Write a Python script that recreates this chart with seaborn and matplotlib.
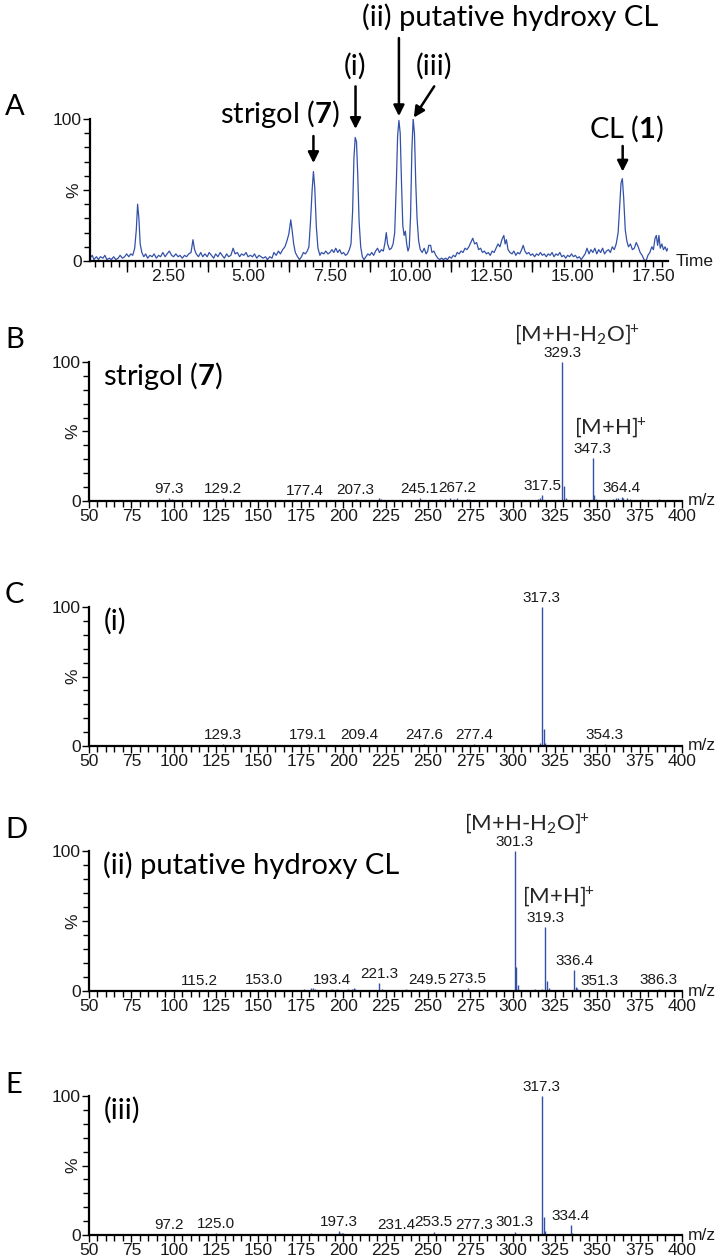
import matplotlib
matplotlib.use('Agg')
import matplotlib.pyplot as plt
from matplotlib import font_manager as fm
from matplotlib.ticker import MultipleLocator
import pandas as pd
import seaborn as sns

# ---- data ----
# A: total ion chromatogram (time in min, relative intensity %)
chrom_points = [
    (0.10, 2), (0.17, 4), (0.22, 1), (0.30, 3), (0.36, 1), (0.42, 3), (0.50, 2), (0.56, 4),
    (0.62, 1), (0.70, 2), (0.76, 1), (0.83, 3), (0.90, 1), (0.97, 2), (1.03, 4), (1.10, 2),
    (1.17, 3), (1.23, 5), (1.30, 3), (1.36, 5), (1.42, 4), (1.48, 9), (1.53, 22), (1.57, 40),
    (1.61, 30), (1.65, 12), (1.70, 6), (1.76, 3), (1.82, 5), (1.88, 2), (1.95, 4), (2.02, 3),
    (2.08, 5), (2.15, 2), (2.22, 4), (2.28, 3), (2.35, 6), (2.42, 3), (2.48, 5), (2.55, 7),
    (2.62, 4), (2.68, 3), (2.75, 5), (2.82, 3), (2.88, 4), (2.95, 2), (3.02, 4), (3.08, 3),
    (3.15, 5), (3.22, 6), (3.28, 15), (3.33, 8), (3.38, 5), (3.45, 3), (3.52, 6), (3.58, 3),
    (3.65, 5), (3.72, 3), (3.78, 6), (3.85, 4), (3.92, 2), (3.98, 5), (4.05, 3), (4.12, 6),
    (4.18, 4), (4.25, 2), (4.32, 5), (4.38, 3), (4.45, 4), (4.52, 9), (4.58, 5), (4.65, 6),
    (4.72, 3), (4.78, 5), (4.85, 4), (4.92, 6), (4.98, 3), (5.05, 4), (5.12, 3), (5.18, 5),
    (5.25, 2), (5.32, 4), (5.38, 3), (5.45, 2), (5.52, 3), (5.58, 1), (5.65, 3), (5.72, 2),
    (5.78, 6), (5.85, 4), (5.92, 7), (5.98, 5), (6.05, 8), (6.12, 10), (6.18, 14), (6.24, 19),
    (6.30, 29), (6.34, 22), (6.39, 12), (6.44, 6), (6.51, 3), (6.57, 1), (6.63, 3), (6.69, 6),
    (6.75, 5), (6.81, 7), (6.86, 10), (6.91, 28), (6.96, 50), (7.00, 63), (7.04, 52), (7.09, 24),
    (7.14, 9), (7.20, 4), (7.25, 6), (7.32, 5), (7.38, 7), (7.45, 5), (7.51, 6), (7.57, 8),
    (7.63, 6), (7.69, 9), (7.75, 6), (7.81, 8), (7.87, 5), (7.93, 6), (7.99, 4), (8.05, 5),
    (8.11, 8), (8.16, 12), (8.21, 35), (8.25, 72), (8.29, 87), (8.33, 84), (8.37, 60), (8.41, 28),
    (8.46, 10), (8.51, 3), (8.56, 1), (8.62, 3), (8.68, 5), (8.74, 4), (8.80, 6), (8.86, 4),
    (8.92, 7), (8.98, 9), (9.04, 6), (9.10, 8), (9.16, 7), (9.21, 13), (9.25, 20), (9.29, 12),
    (9.35, 8), (9.41, 9), (9.46, 12), (9.51, 20), (9.56, 55), (9.60, 88), (9.64, 99), (9.68, 90),
    (9.72, 55), (9.76, 25), (9.80, 18), (9.84, 21), (9.88, 12), (9.92, 7), (9.96, 10), (10.00, 32),
    (10.04, 78), (10.08, 100), (10.12, 90), (10.16, 55), (10.20, 30), (10.25, 14), (10.30, 8), (10.36, 6),
    (10.42, 9), (10.48, 5), (10.53, 7), (10.56, 11), (10.62, 11), (10.66, 6), (10.72, 7), (10.78, 4),
    (10.84, 2), (10.90, 1), (10.96, 2), (11.02, 1), (11.08, 2), (11.14, 1), (11.20, 3), (11.26, 2),
    (11.32, 4), (11.38, 3), (11.44, 6), (11.50, 5), (11.56, 7), (11.62, 6), (11.68, 9), (11.74, 8),
    (11.80, 10), (11.86, 13), (11.92, 16), (11.98, 12), (12.04, 13), (12.10, 8), (12.16, 9), (12.22, 6),
    (12.28, 7), (12.34, 5), (12.40, 6), (12.46, 4), (12.52, 7), (12.58, 6), (12.64, 9), (12.70, 12),
    (12.76, 10), (12.82, 15), (12.88, 18), (12.92, 12), (12.96, 15), (13.01, 8), (13.07, 6), (13.13, 5),
    (13.19, 7), (13.25, 4), (13.31, 6), (13.37, 5), (13.43, 8), (13.48, 11), (13.53, 7), (13.59, 5),
    (13.65, 6), (13.71, 4), (13.77, 5), (13.83, 3), (13.89, 5), (13.95, 4), (14.01, 6), (14.07, 4),
    (14.13, 5), (14.19, 3), (14.25, 5), (14.31, 4), (14.37, 6), (14.43, 3), (14.49, 5), (14.55, 4),
    (14.61, 6), (14.67, 3), (14.73, 4), (14.79, 2), (14.85, 4), (14.91, 3), (14.97, 5), (15.03, 3),
    (15.09, 4), (15.15, 2), (15.21, 3), (15.27, 1), (15.33, 3), (15.39, 5), (15.45, 9), (15.51, 5),
    (15.57, 8), (15.63, 6), (15.69, 9), (15.75, 5), (15.81, 8), (15.87, 6), (15.93, 9), (15.99, 5),
    (16.05, 7), (16.11, 8), (16.17, 6), (16.23, 10), (16.29, 8), (16.35, 12), (16.41, 20), (16.46, 40),
    (16.50, 55), (16.54, 58), (16.58, 45), (16.63, 22), (16.68, 14), (16.73, 10), (16.79, 12), (16.85, 8),
    (16.91, 9), (16.97, 13), (17.03, 10), (17.09, 6), (17.15, 4), (17.21, 1), (17.27, 0), (17.33, 4),
    (17.39, 6), (17.45, 10), (17.50, 8), (17.55, 16), (17.59, 18), (17.63, 11), (17.67, 18), (17.71, 9),
    (17.76, 12), (17.81, 8), (17.86, 10), (17.91, 7), (17.95, 9),
]

# arrows and names in A
arrow_names = ['strigol ($\\mathbf{7}$)', '(i)', '(ii) putative hydroxy CL', '(iii)', 'CL ($\\mathbf{1}$)']
arrow_tip_t = [7.00, 8.30, 9.64, 10.10, 16.55]
arrow_tip_y = [69, 93, 102, 101, 63]
arrow_tail_t = [7.00, 8.30, 9.64, 10.73, 16.55]
arrow_tail_y = [88, 123, 157, 123, 81]
name_t = [5.96, 8.30, 13.07, 10.73, 16.68]
name_y = [103.5, 137, 172, 137, 93]

# B: strigol (7)
b_mz = [97.3, 99.1, 115.1, 129.2, 141.1, 177.4, 199.2, 207.3, 212.1, 221.1,
        222.2, 233.2, 245.1, 257.2, 260.1, 263.2, 265.2, 267.2, 273.2, 274.2,
        282.2, 285.2, 295.1, 304.2, 309.2, 315.2, 316.3, 317.5, 329.3, 330.3,
        331.3, 333.2, 340.2, 346.3, 347.3, 348.3, 349.3, 355.2, 359.2, 361.3,
        362.3, 364.4, 365.3, 367.3, 369.3, 376.3, 380.3, 382.3, 386.3]
b_int = [2, 1.5, 1, 2, 1, 1, 1, 1.5, 0.8, 2,
         1.5, 1, 2, 1.5, 1.5, 2, 1.5, 2.5, 1.5, 1.5,
         1, 1, 0.8, 1, 1, 1.5, 2, 4.5, 100, 11,
         2, 1, 1, 1, 31, 4, 1.5, 1, 1.5, 2,
         2, 3, 2.5, 2, 1.5, 1.5, 1, 1, 1.5]
b_labels = ['97.3', '129.2', '177.4', '207.3', '245.1', '267.2', '317.5', '329.3', '347.3', '364.4']

# C: (i)
c_mz = [115.1, 129.3, 153.1, 155.1, 167.1, 169.1, 179.1, 181.1, 187.1, 191.1,
        201.1, 209.4, 217.2, 219.2, 237.2, 239.2, 247.6, 249.2, 261.2, 263.2,
        265.2, 271.2, 277.4, 309.2, 311.2, 316.3, 317.3, 318.3, 319.3, 329.3,
        331.3, 335.3, 345.3, 354.3]
c_int = [0.8, 1.5, 0.8, 0.8, 0.8, 1, 1.5, 1, 0.8, 0.8,
         0.8, 1.5, 1, 1, 1, 1, 1.5, 0.8, 1, 1,
         0.8, 1, 1.5, 1, 1, 2, 100, 12, 2, 0.8,
         1, 1, 0.8, 1.5]
c_labels = ['129.3', '179.1', '209.4', '247.6', '277.4', '317.3', '354.3']

# D: (ii) putative hydroxy CL
d_mz = [101.1, 115.2, 129.1, 153.0, 177.1, 181.1, 182.1, 183.1, 185.1, 193.4,
        196.1, 199.2, 203.1, 205.2, 206.2, 207.2, 217.2, 221.3, 223.2, 227.2,
        235.2, 237.2, 249.5, 259.2, 263.2, 273.5, 281.2, 283.2, 301.3, 302.3,
        303.3, 313.2, 317.3, 319.3, 320.3, 321.3, 336.4, 337.3, 338.3, 339.3,
        351.3, 353.3, 386.3]
d_int = [1, 1, 1, 1.5, 1.5, 2, 2, 1.5, 1, 1.5,
         1.5, 1, 1.5, 1.5, 2, 1.5, 1, 5.5, 1.5, 1,
         1, 1.5, 1.5, 1, 1, 2, 1, 1.5, 100, 17,
         4, 1.5, 1.5, 46, 7, 2, 15, 3, 2, 1,
         1, 1.5, 1.5]
d_labels = ['115.2', '153.0', '193.4', '221.3', '249.5', '273.5', '301.3', '319.3', '336.4', '351.3', '386.3']

# E: (iii)
e_mz = [97.2, 125.0, 129.1, 181.1, 197.3, 198.2, 199.2, 200.2, 207.2, 221.2,
        225.2, 229.2, 231.4, 253.5, 255.2, 259.2, 271.2, 277.3, 291.2, 301.3,
        317.3, 318.3, 319.3, 334.4, 335.3, 346.3, 351.3]
e_int = [1, 1.5, 1, 1.5, 3, 1.5, 1.5, 1.5, 1, 1,
         1, 1, 1, 2.5, 1, 1, 1, 1, 1, 2.5,
         100, 13, 3, 7, 1.5, 1, 1]
e_labels = ['97.2', '125.0', '197.3', '231.4', '253.5', '277.3', '301.3', '317.3', '334.4']

panel_letters = ['A', 'B', 'C', 'D', 'E']
spectrum_names = ['strigol ($\\mathbf{7}$)', '(i)', '(ii) putative hydroxy CL', '(iii)']
ion_texts = ['[M+H-H$_2$O$]^{\\!\\!+}$', '[M+H$]^{\\!\\!+}$']


def has_font(name):
    try:
        fm.findfont(fm.FontProperties(family=name), fallback_to_default=False)
        return True
    except Exception:
        return False


sns.set_theme(style='ticks')
word_font = 'Lato' if has_font('Lato') else 'DejaVu Sans'
num_font = 'Liberation Sans' if has_font('Liberation Sans') else 'DejaVu Sans'
plt.rcParams['font.family'] = [word_font, 'DejaVu Sans']
plt.rcParams['mathtext.fontset'] = 'custom'
plt.rcParams['mathtext.rm'] = word_font
plt.rcParams['mathtext.it'] = word_font + ':italic'
plt.rcParams['mathtext.bf'] = word_font + ':bold'

blue = '#3451a8'
ink = '#1a1a1a'
tick_fs = 12.5
W, H = 715, 1260
fig = plt.figure(figsize=(W / 100, H / 100), dpi=100)
fig.patch.set_facecolor('white')


def add_axes(left, right, top, bottom):
    return fig.add_axes([left / W, 1 - bottom / H, (right - left) / W, (bottom - top) / H])


def style_axes(ax):
    ax.set_facecolor('white')
    for s in ['top', 'right']:
        ax.spines[s].set_visible(False)
    for s in ['left', 'bottom']:
        ax.spines[s].set_linewidth(1.6)
        ax.spines[s].set_color('black')
    ax.set_ylim(0, 100)
    ax.set_yticks([0, 50, 100])
    ax.set_yticklabels(['0', '%', '100'], family=num_font, fontsize=tick_fs, color=ink)
    pct = ax.get_yticklabels()[1]
    pct.set_rotation(90)
    pct.set_va('center')
    ax.yaxis.set_minor_locator(MultipleLocator(10))
    ax.tick_params(axis='both', which='both', direction='out', color='black', width=1)
    ax.tick_params(axis='y', which='major', length=5, pad=1)
    ax.tick_params(axis='y', which='minor', length=4)
    ax.set_xlabel('')
    ax.set_ylabel('')
    ax.grid(False)


# ---- A: chromatogram ----
axA = add_axes(90, 668, 119, 261)
chrom = pd.DataFrame(chrom_points, columns=['time', 'pct'])
sns.lineplot(data=chrom, x='time', y='pct', ax=axA, color=blue, linewidth=0.9,
             estimator=None, sort=False)
axA.set_xlim(0.1, 17.95)
style_axes(axA)
axA.set_xticks([2.5, 5.0, 7.5, 10.0, 12.5, 15.0, 17.5])
axA.set_xticklabels(['%.2f' % v for v in axA.get_xticks()], family=num_font, fontsize=tick_fs, color=ink)
axA.xaxis.set_minor_locator(MultipleLocator(0.25))
axA.tick_params(axis='x', which='both', length=4, pad=2)
long_ticks = axA.secondary_xaxis('bottom')
long_ticks.set_xticks([1.25, 3.75, 6.25, 8.75, 11.25, 13.75, 16.25])
long_ticks.tick_params(length=8, width=1, labelbottom=False, color='black')
long_ticks.spines['bottom'].set_visible(False)
axA.text(1.013, 0, 'Time', transform=axA.transAxes, ha='left', va='center',
         family=num_font, fontsize=tick_fs, color=ink)

for name, tt, ty, at, ay, nt, ny in zip(arrow_names, arrow_tip_t, arrow_tip_y, arrow_tail_t,
                                        arrow_tail_y, name_t, name_y):
    axA.annotate('', xy=(tt, ty), xytext=(at, ay), annotation_clip=False,
                 arrowprops=dict(arrowstyle='-|>', color='black', lw=1.8,
                                 mutation_scale=16, shrinkA=0, shrinkB=0))
    axA.text(nt, ny, name, ha='center', va='center', fontsize=21, color='black', clip_on=False)

# ---- B-E: MS spectra ----
spectra = [
    (b_mz, b_int, b_labels, 362, 501),
    (c_mz, c_int, c_labels, 607, 746),
    (d_mz, d_int, d_labels, 851, 991),
    (e_mz, e_int, e_labels, 1096, 1235),
]
spec_axes = []
for (mz, inten, labels, top, bottom), name in zip(spectra, spectrum_names):
    ax = add_axes(89, 682, top, bottom)
    ax.vlines(mz, 0, inten, color=blue, linewidth=1.0)
    ax.set_xlim(50, 400)
    style_axes(ax)
    ax.set_xticks(range(50, 401, 25))
    ax.set_xticklabels([str(v) for v in range(50, 401, 25)], family=num_font, fontsize=tick_fs, color=ink)
    ax.xaxis.set_minor_locator(MultipleLocator(5))
    ax.tick_params(axis='x', which='major', length=5, pad=1)
    ax.tick_params(axis='x', which='minor', length=4)
    for lab in labels:
        m = float(lab)
        h = inten[mz.index(m)]
        ax.annotate(lab, xy=(m, h), xytext=(0, 1.5), textcoords='offset points',
                    ha='center', va='bottom', family=num_font, fontsize=11, color=ink,
                    annotation_clip=False)
    ax.text(1.01, 0, 'm/z', transform=ax.transAxes, ha='left', va='center',
            family=num_font, fontsize=tick_fs, color=ink)
    ax.text(58.5, 90, name, ha='left', va='center', fontsize=21, color='black')
    spec_axes.append(ax)

# ion annotations on B and D
spec_axes[0].text(338, 120, ion_texts[0], ha='center', va='center', fontsize=16, clip_on=False)
spec_axes[0].text(357.5, 53, ion_texts[1], ha='center', va='center', fontsize=16)
spec_axes[2].text(308.5, 120, ion_texts[0], ha='center', va='center', fontsize=16, clip_on=False)
spec_axes[2].text(327, 68, ion_texts[1], ha='center', va='center', fontsize=16)

# panel letters
for letter, yc in zip(panel_letters, [107, 340, 595, 830, 1085]):
    fig.text(5 / W, 1 - yc / H, letter, ha='left', va='center', fontsize=21, color='black')

fig.savefig('out.png', dpi=100, facecolor='white')
